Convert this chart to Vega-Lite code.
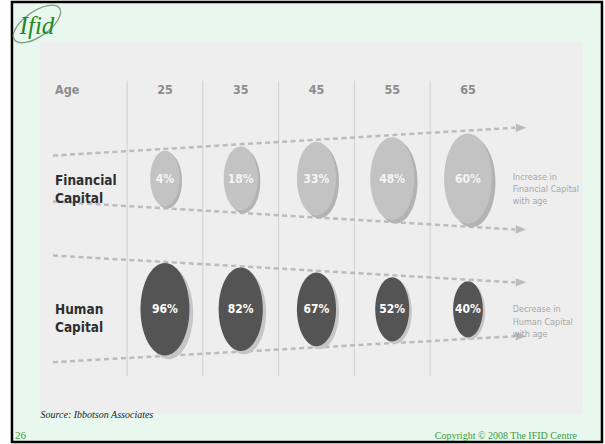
{
  "$schema": "https://vega.github.io/schema/vega-lite/v6.json",
  "width": 605,
  "height": 444,
  "autosize": {"type": "fit", "contains": "padding"},
  "padding": 0,
  "background": "#ffffff",
  "config": {"view": {"stroke": null}, "axis": {"disable": true}, "legend": {"disable": true}},
  "datasets": {
    "financial": [
      {"age": 25, "share": 0.04},
      {"age": 35, "share": 0.18},
      {"age": 45, "share": 0.33},
      {"age": 55, "share": 0.48},
      {"age": 65, "share": 0.60}
    ],
    "human": [
      {"age": 25, "share": 0.96},
      {"age": 35, "share": 0.82},
      {"age": 45, "share": 0.67},
      {"age": 55, "share": 0.52},
      {"age": 65, "share": 0.40}
    ]
  },
  "layer": [
    {
      "data": {"values": [{}]},
      "mark": {"type": "rect", "fill": "#e9f8ef", "stroke": "#000000", "strokeWidth": 2.5},
      "encoding": {
        "x": {"datum": 4.80, "type": "quantitative", "scale": {"domain": [3.22, 83.09], "nice": false, "zero": false}, "axis": null},
        "x2": {"datum": 82.69},
        "y": {"datum": -0.351, "type": "quantitative", "scale": {"domain": [-0.3664, 3.0229], "reverse": true, "nice": false, "zero": false}, "axis": null},
        "y2": {"datum": 3.015}
      }
    },
    {
      "data": {"values": [{}]},
      "mark": {"type": "rect", "fill": "#eeeeee"},
      "encoding": {
        "x": {"datum": 8.50, "type": "quantitative", "scale": {"domain": [3.22, 83.09], "nice": false, "zero": false}, "axis": null},
        "x2": {"datum": 80.18},
        "y": {"datum": -0.0458, "type": "quantitative", "scale": {"domain": [-0.3664, 3.0229], "reverse": true, "nice": false, "zero": false}, "axis": null},
        "y2": {"datum": 2.8016}
      }
    },
    {
      "data": {"values": [{"edge": 20}, {"edge": 30}, {"edge": 40}, {"edge": 50}, {"edge": 60}]},
      "mark": {"type": "rule", "color": "#d0d0d0", "strokeWidth": 1},
      "encoding": {
        "x": {"field": "edge", "type": "quantitative", "scale": {"domain": [3.22, 83.09], "nice": false, "zero": false}, "axis": null},
        "y": {"datum": 0.2519, "type": "quantitative", "scale": {"domain": [-0.3664, 3.0229], "reverse": true, "nice": false, "zero": false}, "axis": null},
        "y2": {"datum": 2.5115}
      }
    },
    {
      "data": {"values": [{}]},
      "mark": {"type": "rule", "color": "#bcbcbc", "strokeWidth": 2.5, "strokeDash": [5, 3.5]},
      "encoding": {
        "x": {"datum": 10.22, "type": "quantitative", "scale": {"domain": [3.22, 83.09], "nice": false, "zero": false}, "axis": null},
        "x2": {"datum": 71.21},
        "y": {"datum": 0.8244, "type": "quantitative", "scale": {"domain": [-0.3664, 3.0229], "reverse": true, "nice": false, "zero": false}, "axis": null},
        "y2": {"datum": 0.6107}
      }
    },
    {
      "data": {"values": [{}]},
      "mark": {"type": "rule", "color": "#bcbcbc", "strokeWidth": 2.5, "strokeDash": [5, 3.5]},
      "encoding": {
        "x": {"datum": 10.22, "type": "quantitative", "scale": {"domain": [3.22, 83.09], "nice": false, "zero": false}, "axis": null},
        "x2": {"datum": 71.21},
        "y": {"datum": 1.1756, "type": "quantitative", "scale": {"domain": [-0.3664, 3.0229], "reverse": true, "nice": false, "zero": false}, "axis": null},
        "y2": {"datum": 1.3893}
      }
    },
    {
      "data": {"values": [{}]},
      "mark": {"type": "rule", "color": "#bcbcbc", "strokeWidth": 2.5, "strokeDash": [5, 3.5]},
      "encoding": {
        "x": {"datum": 10.22, "type": "quantitative", "scale": {"domain": [3.22, 83.09], "nice": false, "zero": false}, "axis": null},
        "x2": {"datum": 71.21},
        "y": {"datum": 1.5878, "type": "quantitative", "scale": {"domain": [-0.3664, 3.0229], "reverse": true, "nice": false, "zero": false}, "axis": null},
        "y2": {"datum": 1.7939}
      }
    },
    {
      "data": {"values": [{}]},
      "mark": {"type": "rule", "color": "#bcbcbc", "strokeWidth": 2.5, "strokeDash": [5, 3.5]},
      "encoding": {
        "x": {"datum": 10.22, "type": "quantitative", "scale": {"domain": [3.22, 83.09], "nice": false, "zero": false}, "axis": null},
        "x2": {"datum": 71.21},
        "y": {"datum": 2.4046, "type": "quantitative", "scale": {"domain": [-0.3664, 3.0229], "reverse": true, "nice": false, "zero": false}, "axis": null},
        "y2": {"datum": 2.2061}
      }
    },
    {
      "data": {"values": [{}]},
      "mark": {"type": "point", "shape": "M-1,-0.8L1,0L-1,0.8Z", "filled": true, "color": "#bcbcbc", "opacity": 1, "size": 110},
      "encoding": {
        "x": {"datum": 72.0, "type": "quantitative", "scale": {"domain": [3.22, 83.09], "nice": false, "zero": false}, "axis": null},
        "y": {"datum": 0.6107, "type": "quantitative", "scale": {"domain": [-0.3664, 3.0229], "reverse": true, "nice": false, "zero": false}, "axis": null}
      }
    },
    {
      "data": {"values": [{}]},
      "mark": {"type": "point", "shape": "M-1,-0.8L1,0L-1,0.8Z", "filled": true, "color": "#bcbcbc", "opacity": 1, "size": 110},
      "encoding": {
        "x": {"datum": 72.0, "type": "quantitative", "scale": {"domain": [3.22, 83.09], "nice": false, "zero": false}, "axis": null},
        "y": {"datum": 1.3893, "type": "quantitative", "scale": {"domain": [-0.3664, 3.0229], "reverse": true, "nice": false, "zero": false}, "axis": null}
      }
    },
    {
      "data": {"values": [{}]},
      "mark": {"type": "point", "shape": "M-1,-0.8L1,0L-1,0.8Z", "filled": true, "color": "#bcbcbc", "opacity": 1, "size": 110},
      "encoding": {
        "x": {"datum": 72.0, "type": "quantitative", "scale": {"domain": [3.22, 83.09], "nice": false, "zero": false}, "axis": null},
        "y": {"datum": 1.7939, "type": "quantitative", "scale": {"domain": [-0.3664, 3.0229], "reverse": true, "nice": false, "zero": false}, "axis": null}
      }
    },
    {
      "data": {"values": [{}]},
      "mark": {"type": "point", "shape": "M-1,-0.8L1,0L-1,0.8Z", "filled": true, "color": "#bcbcbc", "opacity": 1, "size": 110},
      "encoding": {
        "x": {"datum": 72.0, "type": "quantitative", "scale": {"domain": [3.22, 83.09], "nice": false, "zero": false}, "axis": null},
        "y": {"datum": 2.2061, "type": "quantitative", "scale": {"domain": [-0.3664, 3.0229], "reverse": true, "nice": false, "zero": false}, "axis": null}
      }
    },
    {
      "data": {"values": [{}]},
      "mark": {"type": "text", "text": "Age", "align": "left", "baseline": "middle", "font": "DejaVu Sans Condensed, DejaVu Sans, sans-serif", "fontSize": 12.5, "fontWeight": "bold", "color": "#8d8d8d"},
      "encoding": {
        "x": {"datum": 10.48, "type": "quantitative", "scale": {"domain": [3.22, 83.09], "nice": false, "zero": false}, "axis": null},
        "y": {"datum": 0.3206, "type": "quantitative", "scale": {"domain": [-0.3664, 3.0229], "reverse": true, "nice": false, "zero": false}, "axis": null}
      }
    },
    {
      "data": {"name": "financial"},
      "mark": {"type": "text", "align": "center", "baseline": "middle", "font": "DejaVu Sans Condensed, DejaVu Sans, sans-serif", "fontSize": 12.5, "fontWeight": "bold", "color": "#8d8d8d"},
      "encoding": {
        "x": {"field": "age", "type": "quantitative", "scale": {"domain": [3.22, 83.09], "nice": false, "zero": false}, "axis": null},
        "y": {"datum": 0.3206, "type": "quantitative", "scale": {"domain": [-0.3664, 3.0229], "reverse": true, "nice": false, "zero": false}, "axis": null},
        "text": {"field": "age", "type": "quantitative", "format": "d"}
      }
    },
    {
      "data": {"values": [{}]},
      "mark": {"type": "text", "text": ["Financial", "Capital"], "lineHeight": 18, "align": "left", "baseline": "middle", "font": "DejaVu Sans Condensed, DejaVu Sans, sans-serif", "fontSize": 13.5, "fontWeight": "bold", "color": "#2e2e2e"},
      "encoding": {
        "x": {"datum": 10.48, "type": "quantitative", "scale": {"domain": [3.22, 83.09], "nice": false, "zero": false}, "axis": null},
        "y": {"datum": 1.015, "type": "quantitative", "scale": {"domain": [-0.3664, 3.0229], "reverse": true, "nice": false, "zero": false}, "axis": null}
      }
    },
    {
      "data": {"values": [{}]},
      "mark": {"type": "text", "text": ["Human", "Capital"], "lineHeight": 18, "align": "left", "baseline": "middle", "font": "DejaVu Sans Condensed, DejaVu Sans, sans-serif", "fontSize": 13.5, "fontWeight": "bold", "color": "#2e2e2e"},
      "encoding": {
        "x": {"datum": 10.48, "type": "quantitative", "scale": {"domain": [3.22, 83.09], "nice": false, "zero": false}, "axis": null},
        "y": {"datum": 2.008, "type": "quantitative", "scale": {"domain": [-0.3664, 3.0229], "reverse": true, "nice": false, "zero": false}, "axis": null}
      }
    },
    {
      "data": {"values": [{}]},
      "mark": {"type": "text", "text": ["Increase in", "Financial Capital", "with age"], "lineHeight": 12.3, "align": "left", "baseline": "middle", "font": "DejaVu Sans Condensed, DejaVu Sans, sans-serif", "fontSize": 9, "color": "#a8a8a8"},
      "encoding": {
        "x": {"datum": 70.9, "type": "quantitative", "scale": {"domain": [3.22, 83.09], "nice": false, "zero": false}, "axis": null},
        "y": {"datum": 0.987, "type": "quantitative", "scale": {"domain": [-0.3664, 3.0229], "reverse": true, "nice": false, "zero": false}, "axis": null}
      }
    },
    {
      "data": {"values": [{}]},
      "mark": {"type": "text", "text": ["Decrease in", "Human Capital", "with age"], "lineHeight": 12.3, "align": "left", "baseline": "middle", "font": "DejaVu Sans Condensed, DejaVu Sans, sans-serif", "fontSize": 9, "color": "#a8a8a8"},
      "encoding": {
        "x": {"datum": 70.9, "type": "quantitative", "scale": {"domain": [3.22, 83.09], "nice": false, "zero": false}, "axis": null},
        "y": {"datum": 2.0, "type": "quantitative", "scale": {"domain": [-0.3664, 3.0229], "reverse": true, "nice": false, "zero": false}, "axis": null}
      }
    },
    {
      "data": {"name": "financial"},
      "layer": [
        {
          "mark": {"type": "point", "shape": "M0.08,-0.92C0.3727,-0.92,0.61,-0.4723,0.61,0.08C0.61,0.6323,0.3727,1.08,0.08,1.08C-0.2127,1.08,-0.45,0.6323,-0.45,0.08C-0.45,-0.4723,-0.2127,-0.92,0.08,-0.92Z", "filled": true, "color": "#b3b3b3", "opacity": 1},
          "encoding": {
            "x": {"field": "age", "type": "quantitative", "scale": {"domain": [3.22, 83.09], "nice": false, "zero": false}, "axis": null},
            "y": {"datum": 1, "type": "quantitative", "scale": {"domain": [-0.3664, 3.0229], "reverse": true, "nice": false, "zero": false}, "axis": null},
            "size": {"field": "share", "type": "quantitative", "scale": {"type": "linear", "domain": [0, 0.2, 0.4, 0.6, 0.8, 1], "range": [2809, 4277, 6053, 8118, 10506, 13202]}, "legend": null}
          }
        },
        {
          "mark": {"type": "point", "shape": "M0,-1C0.2927,-1,0.53,-0.5523,0.53,0C0.53,0.5523,0.2927,1,0,1C-0.2927,1,-0.53,0.5523,-0.53,0C-0.53,-0.5523,-0.2927,-1,0,-1Z", "filled": true, "color": "#c3c3c3", "opacity": 1},
          "encoding": {
            "x": {"field": "age", "type": "quantitative", "scale": {"domain": [3.22, 83.09], "nice": false, "zero": false}, "axis": null},
            "y": {"datum": 1, "type": "quantitative", "scale": {"domain": [-0.3664, 3.0229], "reverse": true, "nice": false, "zero": false}, "axis": null},
            "size": {"field": "share", "type": "quantitative", "scale": {"type": "linear", "domain": [0, 0.2, 0.4, 0.6, 0.8, 1], "range": [2809, 4277, 6053, 8118, 10506, 13202]}, "legend": null}
          }
        },
        {
          "mark": {"type": "text", "align": "center", "baseline": "middle", "font": "DejaVu Sans Condensed, DejaVu Sans, sans-serif", "fontSize": 12, "fontWeight": "bold", "color": "#f5f5f5"},
          "encoding": {
            "x": {"field": "age", "type": "quantitative", "scale": {"domain": [3.22, 83.09], "nice": false, "zero": false}, "axis": null},
            "y": {"datum": 1, "type": "quantitative", "scale": {"domain": [-0.3664, 3.0229], "reverse": true, "nice": false, "zero": false}, "axis": null},
            "text": {"field": "share", "type": "quantitative", "format": ".0%"}
          }
        }
      ]
    },
    {
      "data": {"name": "human"},
      "layer": [
        {
          "mark": {"type": "point", "shape": "M0.08,-0.92C0.3727,-0.92,0.61,-0.4723,0.61,0.08C0.61,0.6323,0.3727,1.08,0.08,1.08C-0.2127,1.08,-0.45,0.6323,-0.45,0.08C-0.45,-0.4723,-0.2127,-0.92,0.08,-0.92Z", "filled": true, "color": "#c6c6c6", "opacity": 1},
          "encoding": {
            "x": {"field": "age", "type": "quantitative", "scale": {"domain": [3.22, 83.09], "nice": false, "zero": false}, "axis": null},
            "y": {"datum": 2, "type": "quantitative", "scale": {"domain": [-0.3664, 3.0229], "reverse": true, "nice": false, "zero": false}, "axis": null},
            "size": {"field": "share", "type": "quantitative", "scale": {"type": "linear", "domain": [0, 0.2, 0.4, 0.6, 0.8, 1], "range": [912, 1858, 3147, 4761, 6724, 9006]}, "legend": null}
          }
        },
        {
          "mark": {"type": "point", "shape": "M0,-1C0.2927,-1,0.53,-0.5523,0.53,0C0.53,0.5523,0.2927,1,0,1C-0.2927,1,-0.53,0.5523,-0.53,0C-0.53,-0.5523,-0.2927,-1,0,-1Z", "filled": true, "color": "#545454", "opacity": 1},
          "encoding": {
            "x": {"field": "age", "type": "quantitative", "scale": {"domain": [3.22, 83.09], "nice": false, "zero": false}, "axis": null},
            "y": {"datum": 2, "type": "quantitative", "scale": {"domain": [-0.3664, 3.0229], "reverse": true, "nice": false, "zero": false}, "axis": null},
            "size": {"field": "share", "type": "quantitative", "scale": {"type": "linear", "domain": [0, 0.2, 0.4, 0.6, 0.8, 1], "range": [912, 1858, 3147, 4761, 6724, 9006]}, "legend": null}
          }
        },
        {
          "mark": {"type": "text", "align": "center", "baseline": "middle", "font": "DejaVu Sans Condensed, DejaVu Sans, sans-serif", "fontSize": 12, "fontWeight": "bold", "color": "#ffffff"},
          "encoding": {
            "x": {"field": "age", "type": "quantitative", "scale": {"domain": [3.22, 83.09], "nice": false, "zero": false}, "axis": null},
            "y": {"datum": 2, "type": "quantitative", "scale": {"domain": [-0.3664, 3.0229], "reverse": true, "nice": false, "zero": false}, "axis": null},
            "text": {"field": "share", "type": "quantitative", "format": ".0%"}
          }
        }
      ]
    },
    {
      "data": {"values": [{}]},
      "mark": {"type": "text", "text": "Source: Ibbotson Associates", "align": "left", "baseline": "middle", "font": "Liberation Serif, Times New Roman, serif", "fontStyle": "italic", "fontSize": 10, "color": "#1a1a1a"},
      "encoding": {
        "x": {"datum": 8.567, "type": "quantitative", "scale": {"domain": [3.22, 83.09], "nice": false, "zero": false}, "axis": null},
        "y": {"datum": 2.809, "type": "quantitative", "scale": {"domain": [-0.3664, 3.0229], "reverse": true, "nice": false, "zero": false}, "axis": null}
      }
    },
    {
      "data": {"values": [{}]},
      "mark": {"type": "text", "text": "26", "align": "left", "baseline": "middle", "font": "Liberation Serif, Times New Roman, serif", "fontSize": 11, "color": "#3a9a3a"},
      "encoding": {
        "x": {"datum": 5.2, "type": "quantitative", "scale": {"domain": [3.22, 83.09], "nice": false, "zero": false}, "axis": null},
        "y": {"datum": 2.9695, "type": "quantitative", "scale": {"domain": [-0.3664, 3.0229], "reverse": true, "nice": false, "zero": false}, "axis": null}
      }
    },
    {
      "data": {"values": [{}]},
      "mark": {"type": "text", "text": "Copyright © 2008 The IFID Centre", "align": "right", "baseline": "middle", "font": "Liberation Serif, Times New Roman, serif", "fontSize": 10, "color": "#3a9a3a"},
      "encoding": {
        "x": {"datum": 79.39, "type": "quantitative", "scale": {"domain": [3.22, 83.09], "nice": false, "zero": false}, "axis": null},
        "y": {"datum": 2.9695, "type": "quantitative", "scale": {"domain": [-0.3664, 3.0229], "reverse": true, "nice": false, "zero": false}, "axis": null}
      }
    },
    {
      "data": {"values": [{}]},
      "mark": {"type": "point", "shape": "M-1,0C-1,-0.2485,-0.5523,-0.45,0,-0.45C0.5523,-0.45,1,-0.2485,1,0C1,0.2485,0.5523,0.45,0,0.45C-0.5523,0.45,-1,0.2485,-1,0Z", "filled": false, "stroke": "#7d9d7d", "strokeWidth": 1.3, "opacity": 1, "size": 3025, "angle": -35},
      "encoding": {
        "x": {"datum": 8.10, "type": "quantitative", "scale": {"domain": [3.22, 83.09], "nice": false, "zero": false}, "axis": null},
        "y": {"datum": -0.183, "type": "quantitative", "scale": {"domain": [-0.3664, 3.0229], "reverse": true, "nice": false, "zero": false}, "axis": null}
      }
    },
    {
      "data": {"values": [{}]},
      "mark": {"type": "text", "text": "Ifid", "align": "center", "baseline": "middle", "font": "Liberation Serif, Times New Roman, serif", "fontStyle": "italic", "fontSize": 25, "color": "#1f8a1f"},
      "encoding": {
        "x": {"datum": 8.10, "type": "quantitative", "scale": {"domain": [3.22, 83.09], "nice": false, "zero": false}, "axis": null},
        "y": {"datum": -0.17, "type": "quantitative", "scale": {"domain": [-0.3664, 3.0229], "reverse": true, "nice": false, "zero": false}, "axis": null}
      }
    }
  ],
  "resolve": {"scale": {"size": "independent"}}
}
